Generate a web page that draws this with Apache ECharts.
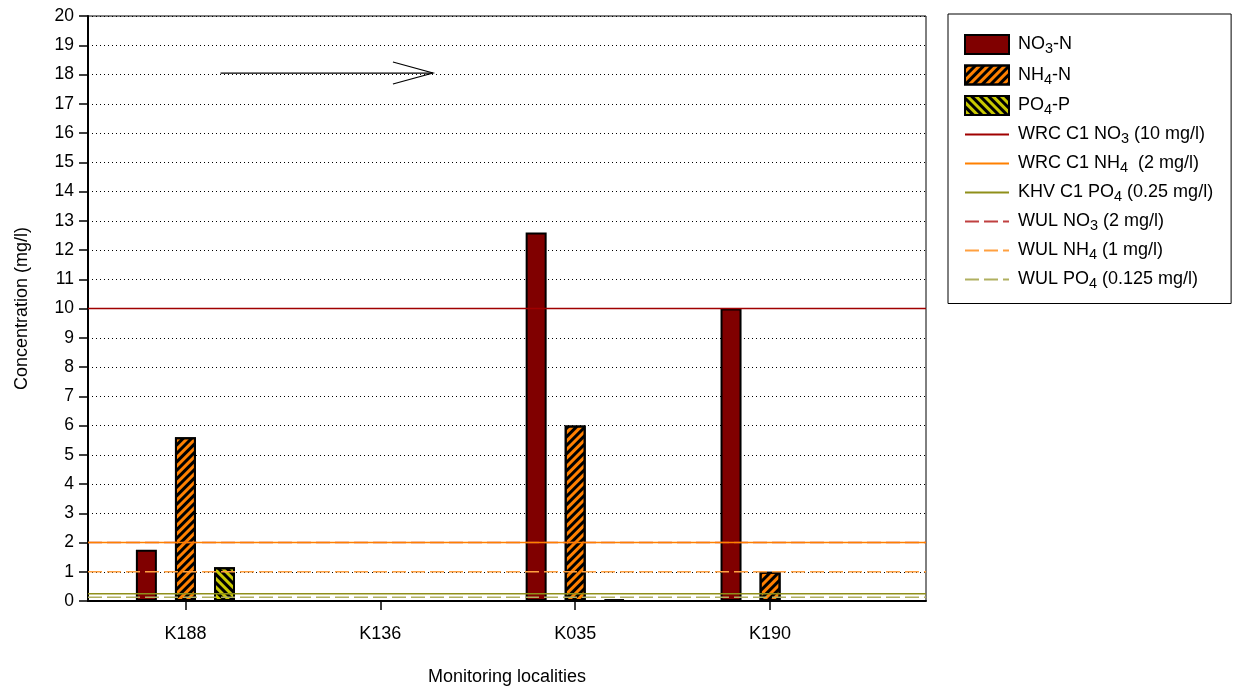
<!DOCTYPE html>
<html><head><meta charset="utf-8">
<script src="https://cdn.jsdelivr.net/npm/echarts@6/dist/echarts.min.js"></script>
<style>html,body{margin:0;padding:0;background:#fff}#c{width:1237px;height:687px}</style>
</head><body><div id="c"></div>
<script>
// ---- data ----
const categories = ['K188', 'K136', 'K035', 'K190'];
const catPos = [0, 1, 2, 3];
const no3 = [1.75, null, 12.6, 10.0];
const nh4 = [5.6, null, 6.0, 1.0];
const po4 = [1.15, null, 0.05, null];
const limitNames = ['WRC C1 NO3 (10 mg/l)', 'WRC C1 NH4  (2 mg/l)', 'KHV C1 PO4 (0.25 mg/l)',
                    'WUL NO3 (2 mg/l)', 'WUL NH4 (1 mg/l)', 'WUL PO4 (0.125 mg/l)'];
const limitValues = [10, 2, 0.25, 2, 1, 0.125];
const yTicks = [0, 20, 1];
const xRange = [-0.5, 3.8];

const FONT = 'Liberation Sans, Arial, sans-serif';
const FS = 18;
const limitColors = ['#a00000', '#ff8000', '#8f8f1a', '#c04040', '#ffa040', '#b0b060'];
const limitTypes = ['solid', 'solid', 'solid', [14, 5], [14, 5], [14, 5]];
const limitZ = [3, 4, 3, 2, 3, 3];

function pairs(vals) {
  const out = [];
  vals.forEach((v, i) => { if (v !== null) out.push([catPos[i], v]); });
  return out;
}

const barCommon = { type: 'bar', barWidth: 21, barGap: '86%', z: 1 };
const series = [
  Object.assign({}, barCommon, { name: 'NO3-N', data: pairs(no3),
    itemStyle: { color: '#800000', borderColor: '#000', borderWidth: 2 } }),
  Object.assign({}, barCommon, { name: 'NH4-N', data: pairs(nh4),
    itemStyle: { color: '#ff8000', borderColor: '#000', borderWidth: 2,
      decal: { symbol: 'rect', symbolSize: 1, dashArrayX: [1, 0], dashArrayY: [2.5, 3], rotation: -Math.PI / 4, color: '#000' } } }),
  Object.assign({}, barCommon, { name: 'PO4-P', data: pairs(po4),
    itemStyle: { color: '#c8c800', borderColor: '#000', borderWidth: 2,
      decal: { symbol: 'rect', symbolSize: 1, dashArrayX: [1, 0], dashArrayY: [2.5, 3], rotation: Math.PI / 4, color: '#000' } } })
];
limitNames.forEach((n, i) => {
  series.push({ type: 'line', name: n, symbol: 'none', z: limitZ[i],
    data: [[xRange[0], limitValues[i]], [xRange[1], limitValues[i]]],
    lineStyle: { color: limitColors[i], width: 1.5, type: limitTypes[i] },
    itemStyle: { color: limitColors[i] }, silent: true });
});

function richName(name) {
  return name.replace(/(NO|NH|PO)(\d)/g, (m, a, d) => a + '{s|' + d + '}');
}

const legendData = series.map(s => s.type === 'bar'
  ? { name: s.name, icon: 'rect' }
  : { name: s.name, itemStyle: { opacity: 0, borderWidth: 0 } });

const chart = echarts.init(document.getElementById('c'));
chart.setOption({
  animation: false,
  textStyle: { fontFamily: FONT, color: '#000' },
  grid: { left: 88, right: 311, top: 16, bottom: 86, show: true, borderColor: '#000', borderWidth: 1,
          outerBoundsMode: 'none', containLabel: false },
  xAxis: {
    type: 'value', min: xRange[0], max: xRange[1],
    name: 'Monitoring localities', nameLocation: 'middle', nameGap: 67,
    nameTextStyle: { fontSize: FS, color: '#000', fontFamily: FONT },
    axisLine: { show: true, onZero: false, lineStyle: { color: '#000', width: 2 } },
    axisTick: { show: true, length: 9, customValues: catPos, lineStyle: { color: '#000', width: 1.5 } },
    axisLabel: { customValues: catPos, margin: 24, fontSize: FS, color: '#000', fontFamily: FONT,
      formatter: v => categories[Math.round(v)] || '' },
    splitLine: { show: false }
  },
  yAxis: {
    type: 'value', min: yTicks[0], max: yTicks[1], interval: yTicks[2],
    name: 'Concentration (mg/l)', nameLocation: 'middle', nameGap: 57, nameRotate: 90,
    nameTextStyle: { fontSize: FS, color: '#000', fontFamily: FONT },
    axisLine: { show: true, onZero: false, lineStyle: { color: '#000', width: 2 } },
    axisTick: { show: true, length: 9, lineStyle: { color: '#000', width: 1.5 } },
    axisLabel: { margin: 14, fontSize: 17.5, color: '#000', fontFamily: FONT },
    splitLine: { show: true, lineStyle: { color: '#000', width: 1, type: [1, 3] } }
  },
  legend: {
    orient: 'vertical', left: 948, top: 14,
    padding: [20, 18, 12, 16], itemGap: 8, itemWidth: 44, itemHeight: 19,
    borderColor: '#000', borderWidth: 1,
    data: legendData,
    formatter: n => richName(n),
    textStyle: { fontSize: FS, color: '#000', fontFamily: FONT, padding: [0, 0, 0, 4],
      rich: { s: { fontSize: 14.5, padding: [9, 0, 0, 0], fontFamily: FONT, color: '#000' } } }
  },
  series: series
});

// arrow annotation
const p0 = chart.convertToPixel({ gridIndex: 0 }, [0.18, 18.05]);
const p1 = chart.convertToPixel({ gridIndex: 0 }, [1.27, 18.05]);
chart.setOption({
  graphic: [
    { type: 'line', shape: { x1: p0[0], y1: p0[1], x2: p1[0], y2: p1[1] }, style: { stroke: '#000', lineWidth: 1.2 }, z: 10 },
    { type: 'polyline', shape: { points: [[p1[0] - 40, p1[1] - 11], [p1[0], p1[1]], [p1[0] - 40, p1[1] + 11]] }, style: { stroke: '#000', lineWidth: 1.2, fill: null }, z: 10 }
  ]
});
</script>
</body></html>
